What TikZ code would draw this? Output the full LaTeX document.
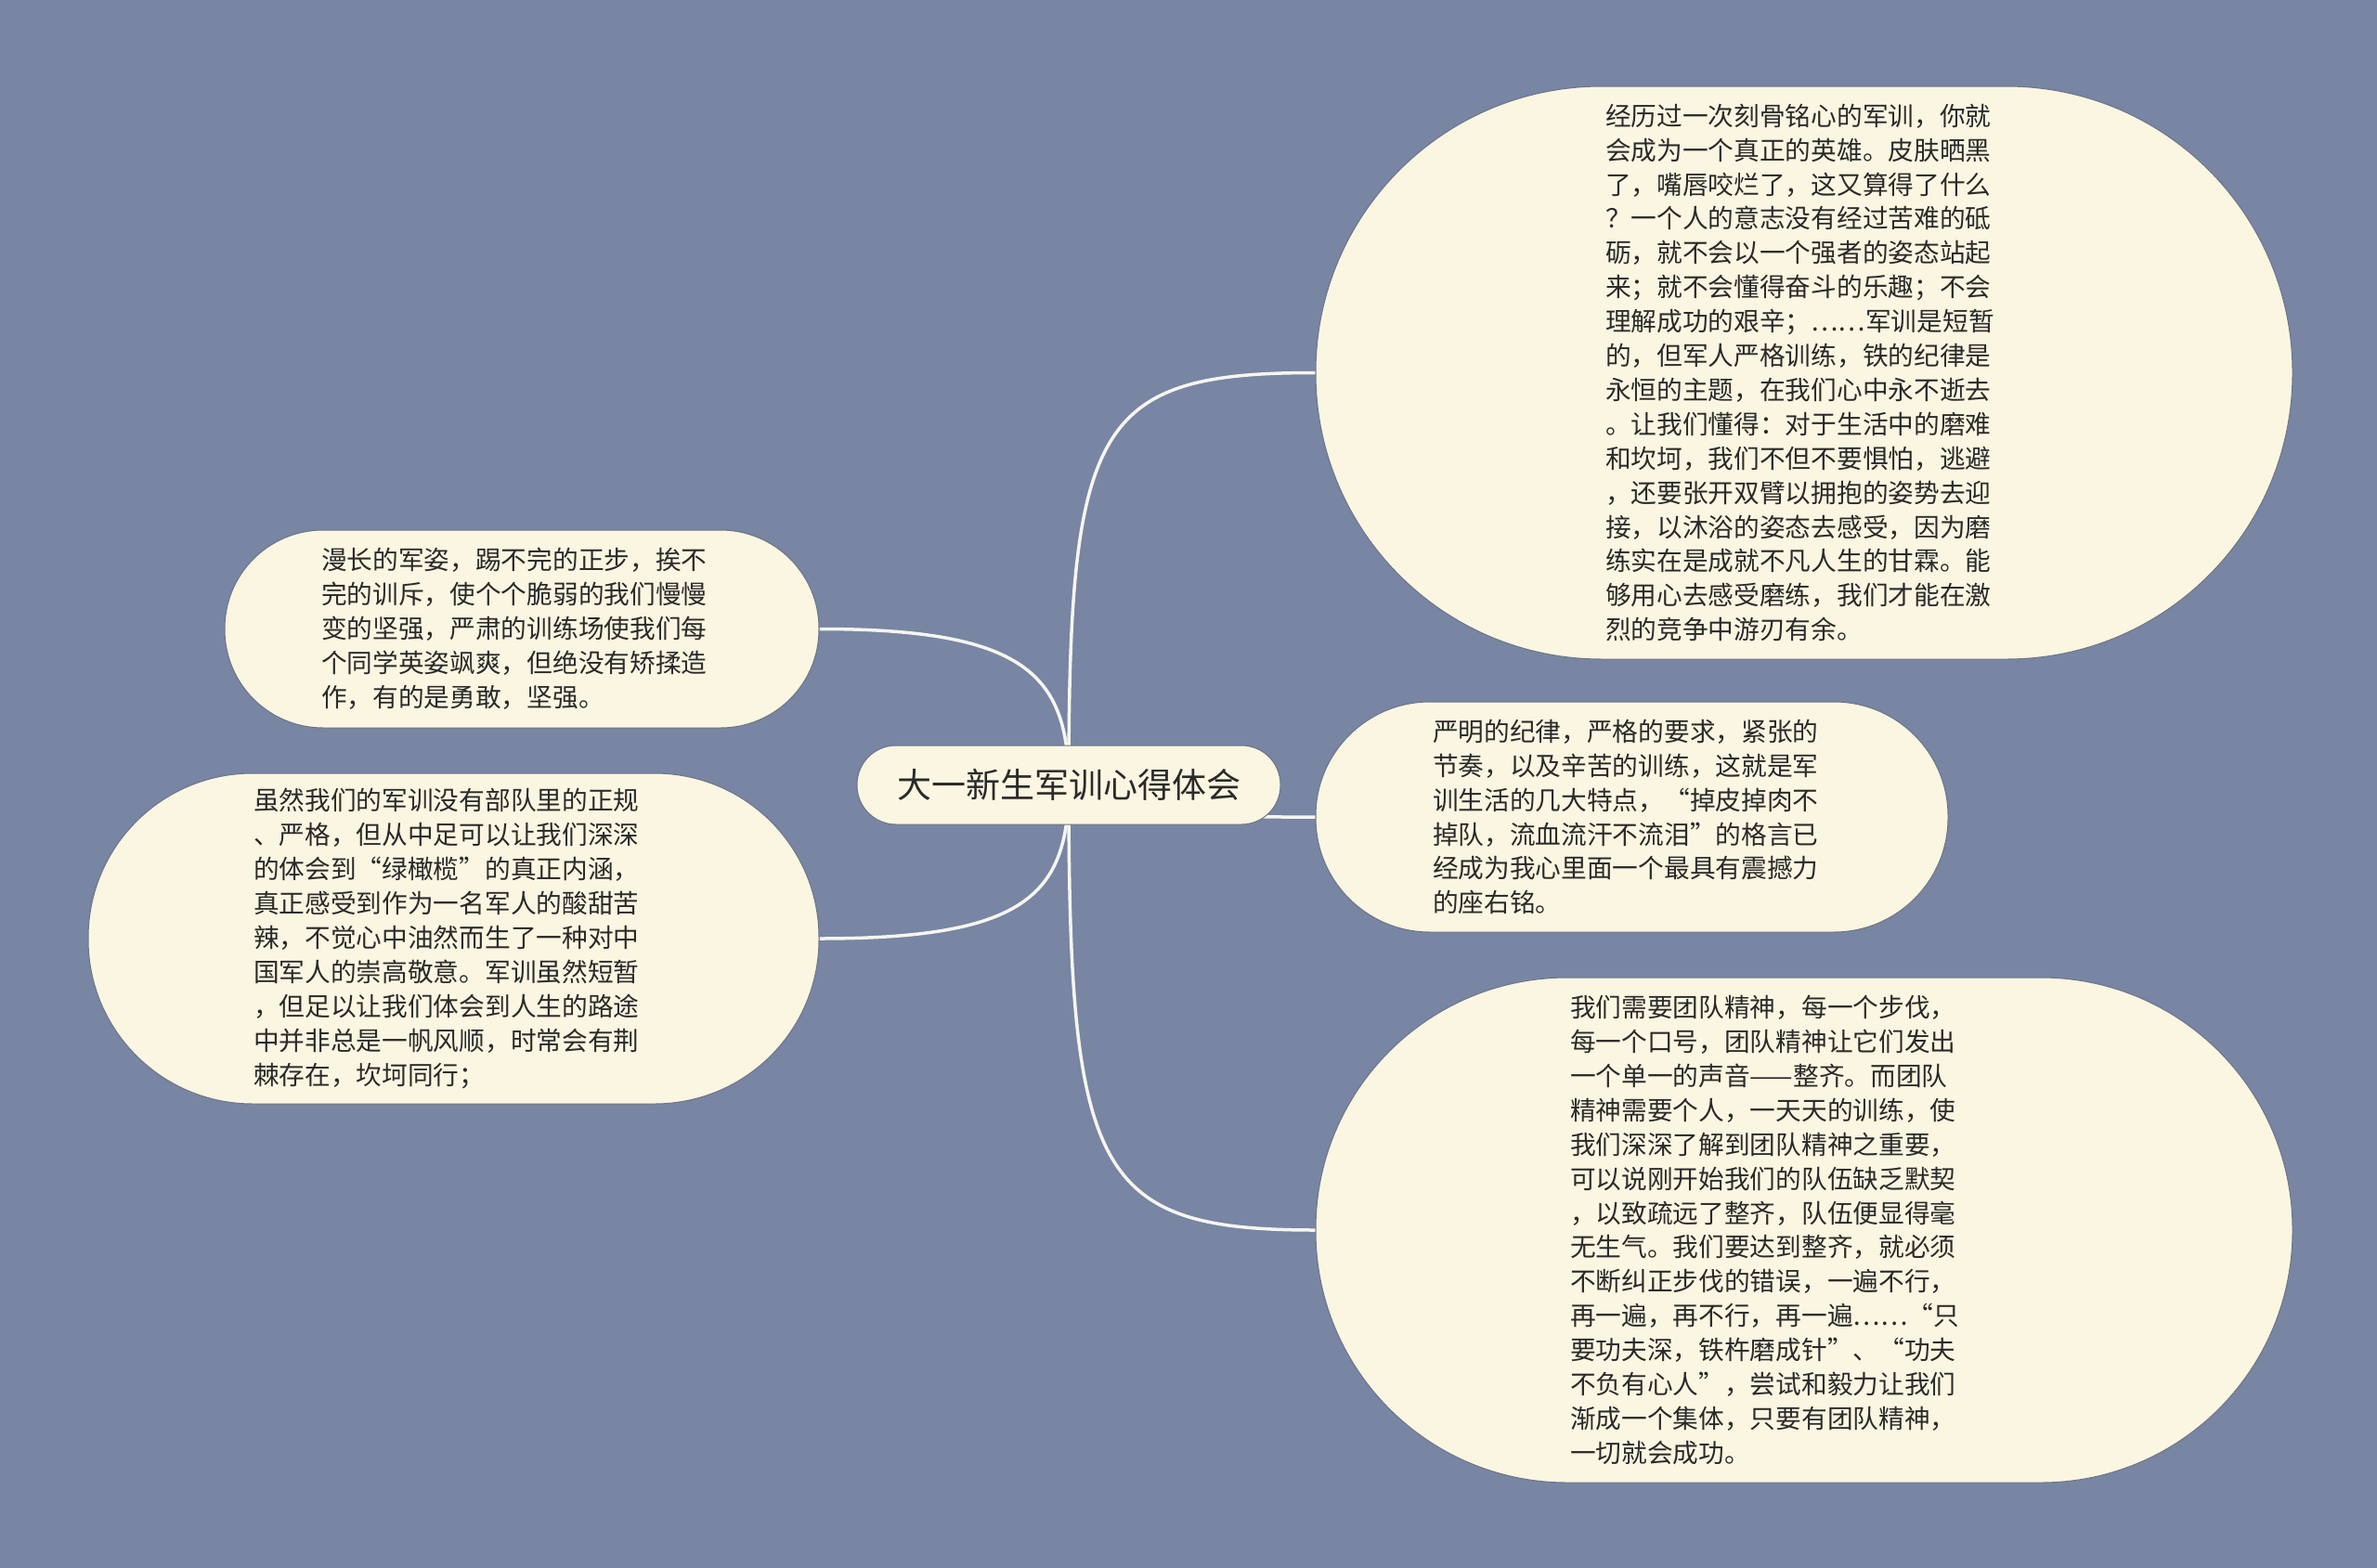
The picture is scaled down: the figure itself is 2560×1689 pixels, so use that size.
\documentclass[tikz,border=0pt]{standalone}
\usepackage{fontspec}
\usetikzlibrary{backgrounds}
\newfontfamily\cjkfont{Noto Sans CJK SC}
\definecolor{slatebg}{HTML}{7885A3}
\definecolor{creamfill}{HTML}{FAF6E1}
\definecolor{inktext}{HTML}{2A2A2A}
\definecolor{rimgray}{HTML}{6C7489}
\definecolor{linewhite}{HTML}{F6F5EE}
\tikzset{
  bubble/.style={fill=creamfill, draw=rimgray, line width=1pt, align=left, inner sep=0pt,
    text=inktext, font=\fontsize{27.7pt}{36.9pt}\cjkfont},
  rootbox/.style={fill=creamfill, draw=rimgray, line width=1pt, inner sep=0pt,
    text=inktext, font=\fontsize{37pt}{44pt}\cjkfont,
    minimum width=456pt, minimum height=85pt, rounded corners=42pt},
  branch/.style={draw=linewhite, line width=3.5pt}
}
\begin{document}
\begin{tikzpicture}[x=1pt,y=-1pt]
\useasboundingbox (0,0) rectangle (2560,1689);

\node[rootbox] (root) at (1151,845.5) {大一新生军训心得体会};

\node[bubble, minimum width=1052pt, minimum height=617pt, rounded corners=308pt, text width=428pt] (camp) at (1943,401.5) {经历过一次刻骨铭心的军训，你就\\
会成为一个真正的英雄。皮肤晒黑\\
了，嘴唇咬烂了，这又算得了什么\\
？一个人的意志没有经过苦难的砥\\
砺，就不会以一个强者的姿态站起\\
来；就不会懂得奋斗的乐趣；不会\\
理解成功的艰辛；……军训是短暂\\
的，但军人严格训练，铁的纪律是\\
永恒的主题，在我们心中永不逝去\\
。让我们懂得：对于生活中的磨难\\
和坎坷，我们不但不要惧怕，逃避\\
，还要张开双臂以拥抱的姿势去迎\\
接，以沐浴的姿态去感受，因为磨\\
练实在是成就不凡人生的甘霖。能\\
够用心去感受磨练，我们才能在激\\
烈的竞争中游刃有余。};

\node[bubble, minimum width=640pt, minimum height=213pt, rounded corners=106pt, text width=432pt] (drill) at (562,677.5) {漫长的军姿，踢不完的正步，挨不\\
完的训斥，使个个脆弱的我们慢慢\\
变的坚强，严肃的训练场使我们每\\
个同学英姿飒爽，但绝没有矫揉造\\
作，有的是勇敢，坚强。};

\node[bubble, minimum width=787pt, minimum height=356pt, rounded corners=177pt, text width=431pt] (olive) at (488.5,1011) {虽然我们的军训没有部队里的正规\\
、严格，但从中足可以让我们深深\\
的体会到“绿橄榄”的真正内涵，\\
真正感受到作为一名军人的酸甜苦\\
辣，不觉心中油然而生了一种对中\\
国军人的崇高敬意。军训虽然短暂\\
，但足以让我们体会到人生的路途\\
中并非总是一帆风顺，时常会有荆\\
棘存在，坎坷同行；};

\node[bubble, minimum width=681pt, minimum height=248pt, rounded corners=123pt, text width=429pt] (motto) at (1757.5,880) {严明的纪律，严格的要求，紧张的\\
节奏，以及辛苦的训练，这就是军\\
训生活的几大特点，“掉皮掉肉不\\
掉队，流血流汗不流泪”的格言已\\
经成为我心里面一个最具有震撼力\\
的座右铭。};

\node[bubble, minimum width=1052pt, minimum height=544pt, rounded corners=271pt, text width=504pt] (team) at (1943,1325) {我们需要团队精神，每一个步伐，\\
每一个口号，团队精神让它们发出\\
一个单一的声音——整齐。而团队\\
精神需要个人，一天天的训练，使\\
我们深深了解到团队精神之重要，\\
可以说刚开始我们的队伍缺乏默契\\
，以致疏远了整齐，队伍便显得毫\\
无生气。我们要达到整齐，就必须\\
不断纠正步伐的错误，一遍不行，\\
再一遍，再不行，再一遍……“只\\
要功夫深，铁杵磨成针”、“功夫\\
不负有心人”，尝试和毅力让我们\\
渐成一个集体，只要有团队精神，\\
一切就会成功。};

\begin{pgfonlayer}{background}
\fill[slatebg] (0,0) rectangle (2560,1689);
\draw[branch] (root.center) .. controls +(0,-390) and +(-237,0) .. (camp.west);
\draw[branch] (root.center) .. controls +(0,-120) and +(220,0) .. (drill.east);
\draw[branch] (root.center) .. controls +(0,120) and +(220,0) .. (olive.east);
\draw[branch] (root.center) .. controls +(0,35) and +(-150,0) .. (motto.west);
\draw[branch] (root.center) .. controls +(0,420) and +(-237,0) .. (team.west);
\end{pgfonlayer}
\end{tikzpicture}
\end{document}
